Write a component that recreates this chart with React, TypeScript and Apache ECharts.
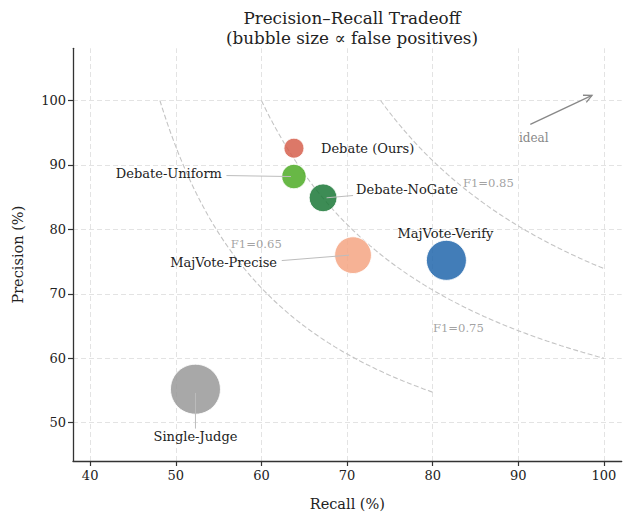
import React, { useEffect, useRef } from "react";
import * as echarts from "echarts";

// ---- data ----
const methods = [
  "Debate (Ours)",
  "Debate-Uniform",
  "Debate-NoGate",
  "MajVote-Precise",
  "MajVote-Verify",
  "Single-Judge",
];
const recall = [63.8, 63.8, 67.2, 70.7, 81.6, 52.3];
const precision = [92.6, 88.2, 84.9, 76.0, 75.2, 55.2];
const falsePositives = [16, 24, 31, 54, 64, 100];
const colors = ["#d6604d", "#4dac26", "#1b7837", "#f4a582", "#2166ac", "#999999"];

const xTicks = [40, 50, 60, 70, 80, 90, 100];
const yTicks = [50, 60, 70, 80, 90, 100];

const f1Levels = [0.65, 0.75, 0.85];
const f1CurveEnd = [80, 100, 100];
const f1LabelPos = [
  [59.4, 77.7],
  [83.0, 64.7],
  [86.5, 87.2],
];
const idealArrow = [
  [91.4, 96.3],
  [98.6, 100.8],
];
const idealLabelPos = [91.8, 94.2];

// ---- layout (pixel offsets of labels from bubble centres) ----
const labelLayout: any[] = [
  { dx: 27, dy: 0, align: "left" },
  { dx: -72, dy: -3.4, align: "right", line: [-67.5, -1, -3, 0] },
  { dx: 33, dy: -8.3, align: "left", line: [30, -2.3, 3.5, 0] },
  { dx: -76, dy: 7.7, align: "right", line: [-71.3, 5.4, -4, 0] },
  { dx: -1, dy: -27, align: "center" },
  { dx: 0, dy: 47.7, align: "center", line: [0, 39.4, 0, 3.7] },
];

const FONT = '"DejaVu Serif", serif';

function isoF1Curve(level: number, end: number): number[][] {
  const F = level * 100;
  const r0 = (100 * F) / (200 - F);
  const pts: number[][] = [];
  const n = 120;
  for (let i = 0; i <= n; i++) {
    const r = r0 + ((end - r0) * i) / n;
    pts.push([r, (F * r) / (2 * r - F)]);
  }
  return pts;
}

export default function App() {
  const ref = useRef<HTMLDivElement>(null);

  useEffect(() => {
    if (!ref.current) return;
    const chart = echarts.init(ref.current, null, { renderer: "svg" });

    const gridStyle = { color: "#e3e3e3", width: 1, type: [5, 3] as any };

    const series: any[] = [];

    // grid lines
    series.push({
      type: "scatter",
      data: [],
      silent: true,
      z: 0,
      markLine: {
        silent: true,
        z: 0,
        symbol: ["none", "none"],
        label: { show: false },
        lineStyle: gridStyle,
        animation: false,
        data: [
          ...xTicks.map((v) => ({ xAxis: v })),
          ...yTicks.map((v) => ({ yAxis: v })),
        ],
      },
    });

    // iso-F1 curves
    f1Levels.forEach((lv, i) => {
      series.push({
        type: "line",
        data: isoF1Curve(lv, f1CurveEnd[i]),
        showSymbol: false,
        symbol: "none",
        silent: true,
        z: 1,
        lineStyle: { color: "#c4c4c4", width: 1.1, type: [5, 2.5] },
      });
    });

    // F1 labels
    series.push({
      type: "scatter",
      silent: true,
      z: 2,
      symbolSize: 0,
      data: f1LabelPos.map((p, i) => ({ value: p, name: "F1=" + f1Levels[i].toFixed(2) })),
      label: {
        show: true,
        position: "inside",
        formatter: (p: any) => p.name,
        color: "#8a8a8a",
        fontSize: 11.6,
        fontFamily: FONT,
      },
    });

    // bubbles
    methods.forEach((m, i) => {
      series.push({
        type: "scatter",
        name: m,
        z: 3,
        data: [[recall[i], precision[i]]],
        symbolSize: 5 * Math.sqrt(falsePositives[i]),
        itemStyle: {
          color: colors[i],
          opacity: 0.85,
          borderColor: "#ffffff",
          borderWidth: 1,
        },
      });
    });

    const axisCommon = {
      type: "value",
      axisLine: { show: true, lineStyle: { color: "#333", width: 1.3 } },
      splitLine: { show: false },
      nameTextStyle: { color: "#222", fontSize: 14.5, fontFamily: FONT },
    };

    chart.setOption({
      animation: false,
      backgroundColor: "#ffffff",
      title: {
        text: "Precision\u2013Recall Tradeoff\n(bubble size \u221d false positives)",
        left: 347,
        top: 2.5,
        textAlign: "center",
        textStyle: {
          fontFamily: FONT,
          fontSize: 16.8,
          fontWeight: "normal",
          color: "#222",
          lineHeight: 20,
        },
      },
      grid: { left: 73, right: 3.3, top: 48.3, bottom: 51.7, containLabel: false },
      xAxis: {
        ...axisCommon,
        min: 38,
        max: 102.07,
        name: "Recall (%)",
        nameLocation: "middle",
        nameGap: 35,
        axisTick: { show: true, length: 5, customValues: xTicks, lineStyle: { color: "#333", width: 1.2 } },
        axisLabel: {
          customValues: xTicks,
          color: "#222",
          fontSize: 13,
          fontFamily: FONT,
          margin: 8,
        },
      },
      yAxis: {
        ...axisCommon,
        min: 44.06,
        max: 108.1,
        name: "Precision (%)",
        nameLocation: "middle",
        nameGap: 48,
        axisTick: { show: true, length: 5, customValues: yTicks, lineStyle: { color: "#333", width: 1.2 } },
        axisLabel: {
          customValues: yTicks,
          color: "#222",
          fontSize: 13,
          fontFamily: FONT,
          margin: 7,
        },
      },
      series,
    });

    // annotations positioned through the chart's own scales
    const graphics: any[] = [];
    methods.forEach((m, i) => {
      const c = chart.convertToPixel({ gridIndex: 0 }, [recall[i], precision[i]]) as number[];
      const L = labelLayout[i];
      if (L.line) {
        graphics.push({
          type: "line",
          z: 100,
          silent: true,
          shape: { x1: c[0] + L.line[0], y1: c[1] + L.line[1], x2: c[0] + L.line[2], y2: c[1] + L.line[3] },
          style: { stroke: "#bdbdbd", lineWidth: 1 },
        });
      }
      graphics.push({
        type: "text",
        z: 101,
        silent: true,
        x: c[0] + L.dx,
        y: c[1] + L.dy,
        style: {
          text: m,
          fill: "#222",
          font: `13px ${FONT}`,
          textAlign: L.align,
          align: L.align,
          textVerticalAlign: "middle",
          verticalAlign: "middle",
        },
      });
    });

    // ideal arrow
    const a0 = chart.convertToPixel({ gridIndex: 0 }, idealArrow[0]) as number[];
    const a1 = chart.convertToPixel({ gridIndex: 0 }, idealArrow[1]) as number[];
    const ang = Math.atan2(a1[1] - a0[1], a1[0] - a0[0]);
    const hl = 9;
    const hw = 0.45;
    graphics.push({
      type: "line",
      z: 100,
      silent: true,
      shape: { x1: a0[0], y1: a0[1], x2: a1[0], y2: a1[1] },
      style: { stroke: "#888", lineWidth: 1.3 },
    });
    graphics.push({
      type: "polyline",
      z: 100,
      silent: true,
      shape: {
        points: [
          [a1[0] - hl * Math.cos(ang - hw), a1[1] - hl * Math.sin(ang - hw)],
          [a1[0], a1[1]],
          [a1[0] - hl * Math.cos(ang + hw), a1[1] - hl * Math.sin(ang + hw)],
        ],
      },
      style: { stroke: "#888", lineWidth: 1.3, fill: "none" },
    });
    const ip = chart.convertToPixel({ gridIndex: 0 }, idealLabelPos) as number[];
    graphics.push({
      type: "text",
      z: 101,
      silent: true,
      x: ip[0],
      y: ip[1],
      style: {
        text: "ideal",
        fill: "#888",
        font: `12px ${FONT}`,
        textAlign: "center",
        align: "center",
        textVerticalAlign: "middle",
        verticalAlign: "middle",
      },
    });

    chart.setOption({ graphic: graphics });

    return () => chart.dispose();
  }, []);

  return (
    <div
      ref={ref}
      style={{ position: "fixed", left: 0, top: 0, width: 625, height: 516, background: "#fff" }}
    />
  );
}
